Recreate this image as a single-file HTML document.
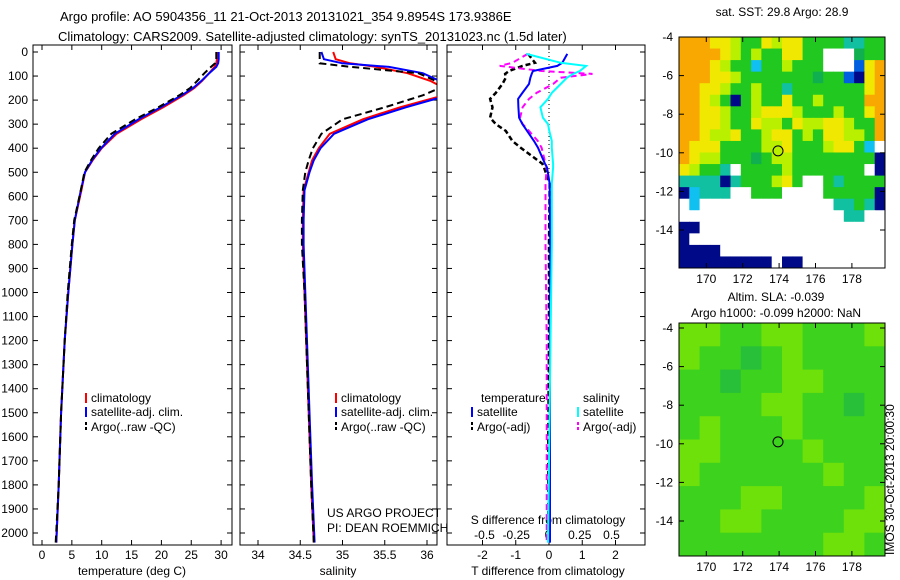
<!DOCTYPE html>
<html><head><meta charset="utf-8"><style>
body{margin:0;background:#fff}
svg{display:block;font-family:"Liberation Sans",sans-serif;font-size:12px}
</style></head><body>
<svg id="s" width="900" height="580">
<g>
<text x="60" y="21" font-size="13">Argo profile: AO 5904356_11 21-Oct-2013 20131021_354 9.8954S 173.9386E</text>
<text x="58" y="41" font-size="13">Climatology: CARS2009. Satellite-adjusted climatology: synTS_20131023.nc (1.5d later)</text>
<text x="782" y="16" text-anchor="middle">sat. SST: 29.8 Argo: 28.9</text>
<text x="776" y="301" text-anchor="middle">Altim. SLA: -0.039</text>
<text x="776" y="317" text-anchor="middle">Argo h1000: -0.099 h2000: NaN</text>
<text transform="translate(894,555) rotate(-90)">IMOS 30-Oct-2013 20:00:30</text>
<text x="132" y="575" text-anchor="middle">temperature (deg C)</text>
<text x="338" y="575" text-anchor="middle">salinity</text>
<text x="548" y="575" text-anchor="middle">T difference from climatology</text>
<text x="548" y="524" text-anchor="middle">S difference from climatology</text>
<text x="327" y="517">US ARGO PROJECT</text>
<text x="327" y="532">PI: DEAN ROEMMICH</text>
</g>
<g id="g"></g>
</svg>
<script>
// ---- data ----
const depthTicks=[0,100,200,300,400,500,600,700,800,900,1000,1100,1200,1300,1400,1500,1600,1700,1800,1900,2000];
const tTicks=[0,5,10,15,20,25,30];
const sTicks=[34,34.5,35,35.5,36];
const tdTicks=[-2,-1,0,1,2];
const sdTicks=[-0.5,-0.25,0,0.25,0.5];
const sdLabels=["-0.5","-0.25","0","0.25","0.5"];
const profDepth=[0,30,47,62,88,120,150,180,230,280,340,400,450,500,575,700,800,1000,1200,1500,1800,2040];
const tClim=[29.3,29.3,29.2,28.9,28.0,26.8,25.5,23.7,20.3,16.6,12.5,10.0,8.5,7.2,6.6,5.5,5.1,4.4,3.8,3.2,2.8,2.4];
const tSat=[29.6,29.6,29.5,29.2,28.0,26.7,25.3,23.4,19.9,16.2,12.2,9.9,8.4,7.2,6.5,5.5,5.1,4.4,3.8,3.2,2.8,2.4];
const tArgo=[29.2,29.2,29.0,28.3,27.2,26.0,24.8,23.0,19.5,15.6,11.6,9.5,8.2,7.1,6.5,5.4,5.0,4.3,3.8,3.2,2.8,2.3];
const sClim=[34.89,34.92,35.09,35.4,35.77,36.04,36.2,36.2,35.68,35.24,34.85,34.72,34.64,34.6,34.54,34.53,34.53,34.55,34.57,34.6,34.63,34.66];
const sSat=[34.75,34.78,35.0,35.55,35.95,36.15,36.3,36.25,35.75,35.3,34.9,34.74,34.66,34.61,34.55,34.54,34.54,34.56,34.58,34.61,34.64,34.67];
const sArgo=[34.73,34.73,34.73,35.1,35.9,36.1,36.15,35.95,35.5,35.0,34.75,34.65,34.6,34.56,34.53,34.52,34.52,34.55,34.57,34.6,34.63,34.66];
const diffDepth=[8,45,58,79,91,107,133,170,195,230,273,300,328,370,398,465,480,548,800,1200,1600,2040];
const tdSat=[0.55,0.4,0.25,-0.48,-0.52,-0.56,-0.6,-0.8,-0.93,-0.92,-0.9,-0.8,-0.66,-0.45,-0.33,-0.12,-0.06,0.02,0.04,0.03,0.03,0.03];
const tdArgo=[-0.63,-0.42,-0.8,-1.2,-1.32,-1.3,-1.4,-1.6,-1.77,-1.7,-1.77,-1.6,-1.3,-1.1,-0.85,-0.2,-0.15,0.02,0.0,0.0,-0.02,-0.02];
const sdSat=[-0.17,0.1,0.3,0.25,0.2,0.15,0.1,0.03,0.0,-0.06,-0.04,0.0,0.01,0.03,0.03,0.04,0.04,0.03,0.03,0.02,0.01,0.0];
const sdArgo=[-0.16,-0.28,-0.38,-0.05,0.35,0.1,0.04,-0.09,-0.15,-0.2,-0.22,-0.2,-0.15,-0.08,-0.05,-0.02,-0.01,-0.02,-0.02,-0.01,-0.01,-0.01];
const mapXTicks=[170,172,174,176,178];
const mapYTicks=[-4,-6,-8,-10,-12,-14];
const argoLon=173.94, argoLat=-9.9;
const sstGrid=[
"OOOYYLGGYLYYGGGGTTGG","OOOOYLGLGGYYGGWWWDGG","OOOYLGGCGGLGGGWWWBYO","OOOYYLGGGGGGGDGGBNYO",
"OOYYLGGLGGTGGGGGGGYO","OOYLGNGLGGYGGLGGGGOO","OOYYLGGLYYYLGGGLGGYO","OOYYLGGYLLGYLLYYLGGO",
"OOYLLYGGLYYGLGYYLLGO","OYYYGGGGLLYGGGLYYGCW","OYLLGGGDGLLGGGGGGGGN","YLGGTWGGGGLGGGGGGGWN",
"TTTTNTGGGLYGWWGTGGGG","NCTTTWWGGGWWWWGGGGGN","WCWWWWWWWWWWWWWTTGTN","WWWWWWWWWWWWWWWWTTWW",
"NNWWWWWWWWWWWWWWWWWW","NWWWWWWWWWWWWWWWWWWW","NNNNWWWWWWWWWWWWWWWW","NNNNNNNNNWNNWWWWWWWW"];
const slaGrid=[
"LLGGLLGGGL","LGGDGLGGGG","GGDGGLLGGG","GGGGLLGGDG","GLGGGLGGGG",
"LLGGGGLGGG","LGGGGGGLGG","GGGLLGGGGL","GGLLGGGGLL","GGGGGGGLLG"];
// ---- drawing ----
const NS="http://www.w3.org/2000/svg", G=document.getElementById('g');
function mk(t,a,p){const e=document.createElementNS(NS,t);for(const k in a)e.setAttribute(k,a[k]);(p||G).appendChild(e);return e;}
const yD=d=>52+d*0.2405;
const P1={x0:33,x1:232},P2={x0:240,x1:437},P3={x0:447,x1:645};
const xT=v=>42+v*5.97, xS=v=>258+(v-34)*84.5, xTD=v=>549+v*33.25, xSD=v=>548+v*127;
const yTop=45,yBot=545;
function frame(P,name){
  const r=mk('rect',{x:P.x0,y:yTop,width:P.x1-P.x0,height:yBot-yTop,fill:'none',stroke:'#000'});
  
  
  depthTicks.forEach(d=>{mk('line',{x1:P.x0,x2:P.x0+5,y1:yD(d),y2:yD(d),stroke:'#000'});mk('line',{x1:P.x1,x2:P.x1-5,y1:yD(d),y2:yD(d),stroke:'#000'});});
}
frame(P1,'temperature-panel');frame(P2,'salinity-panel');frame(P3,'difference-panel');
depthTicks.forEach(d=>{const t=mk('text',{x:28,y:yD(d)+4,'text-anchor':'end'});t.textContent=d;
  
  });
function xticks(ticks,fx,labels,ly){ticks.forEach((v,i)=>{const x=fx(v);
  mk('line',{x1:x,x2:x,y1:yBot,y2:yBot-5,stroke:'#000'});
  mk('line',{x1:x,x2:x,y1:yTop,y2:yTop+5,stroke:'#000'});
  const t=mk('text',{x:x,y:ly,'text-anchor':'middle'});t.textContent=labels?labels[i]:v;
  
  });}
xticks(tTicks,xT,null,559);xticks(sTicks,xS,null,559);xticks(tdTicks,xTD,null,559);
sdTicks.forEach((v,i)=>{const t=mk('text',{x:xSD(v),y:539,'text-anchor':'middle'});t.textContent=sdLabels[i];
  
  });
[P1,P2,P3].forEach((P,i)=>{const c=mk('clipPath',{id:'c'+i});mk('rect',{x:P.x0,y:yTop,width:P.x1-P.x0,height:yBot-yTop},c);});
function line(vals,depths,fx,col,dash,ci,name,w){
  const pts=vals.map((v,i)=>fx(v).toFixed(1)+','+yD(depths[i]).toFixed(1)).join(' ');
  const a={points:pts,fill:'none',stroke:col,'stroke-width':w||2,'clip-path':'url(#c'+ci+')'};
  if(dash)a['stroke-dasharray']=dash;
  const e=mk('polyline',a);
  
  
}
mk('line',{x1:xTD(0),x2:xTD(0),y1:yD(0),y2:yD(2040),stroke:'#000','stroke-dasharray':'1,3'});
line(tClim,profDepth,xT,'#f00',null,0,'temp-climatology-line');
line(tSat,profDepth,xT,'#00f',null,0,'temp-satellite-line');
line(tArgo,profDepth,xT,'#000','7,4',0,'temp-argo-line');
line(sClim,profDepth,xS,'#f00',null,1,'sal-climatology-line');
line(sSat,profDepth,xS,'#00f',null,1,'sal-satellite-line');
line(sArgo,profDepth,xS,'#000','7,4',1,'sal-argo-line');
line(tdArgo,diffDepth,xTD,'#000','5,3',2,'tdiff-argo-line',2.5);
line(sdArgo,diffDepth,xSD,'#f0f','6,4',2,'sdiff-argo-line');
line(tdSat,diffDepth,xTD,'#00f',null,2,'tdiff-satellite-line');
line(sdSat,diffDepth,xSD,'#0ff',null,2,'sdiff-satellite-line');
function leg(x,y,col,dash,label){const a={x1:x,x2:x,y1:y-9,y2:y+1,stroke:col,'stroke-width':2};if(dash)a['stroke-dasharray']=dash;mk('line',a);
  const t=mk('text',{x:x+5,y:y});t.textContent=label;
  
  }
[86,336].forEach(x=>{leg(x,402,'#f00',null,'climatology');leg(x,416,'#00f',null,'satellite-adj. clim.');leg(x,431,'#000','3,2','Argo(..raw -QC)');});
const t1=mk('text',{x:481,y:402});t1.textContent='temperature';


const t2=mk('text',{x:583,y:402});t2.textContent='salinity';


leg(472,416,'#00f',null,'satellite');leg(472,431,'#000','3,2','Argo(-adj)');
leg(578,416,'#0ff',null,'satellite');leg(578,431,'#f0f','3,2','Argo(-adj)');
const cols={O:'#f8a800',Y:'#f0e800',L:'#b8f000',G:'#20c820',D:'#10b050',T:'#10c0a0',C:'#10c0f0',B:'#0060e0',N:'#000a88',W:'#ffffff'};
function map(M,grid,pal,name){
  const lx=v=>M.x0+(v-168.5)*18.2, ly=v=>M.y4+(-4-v)*19.3;
  const rows=grid.length,cw=(M.x1-M.x0)/grid[0].length,ch=(M.y1-M.y0)/rows;
  grid.forEach((r,i)=>[...r].forEach((c,j)=>{const e=mk('rect',{x:M.x0+j*cw,y:M.y0+i*ch,width:cw+0.5,height:ch+0.5,fill:pal[c]});
    
    }));
  const f=mk('rect',{x:M.x0,y:M.y0,width:M.x1-M.x0,height:M.y1-M.y0,fill:'none',stroke:'#000'});
  
  
  mapXTicks.forEach(v=>{const x=lx(v);mk('line',{x1:x,x2:x,y1:M.y1,y2:M.y1-5,stroke:'#000'});mk('line',{x1:x,x2:x,y1:M.y0,y2:M.y0+5,stroke:'#000'});
    const t=mk('text',{x:x,y:M.y1+15,'text-anchor':'middle'});t.textContent=v;
    
    });
  mapYTicks.forEach(v=>{const y=ly(v);mk('line',{x1:M.x0,x2:M.x0+5,y1:y,y2:y,stroke:'#000'});mk('line',{x1:M.x1,x2:M.x1-5,y1:y,y2:y,stroke:'#000'});
    const t=mk('text',{x:M.x0-6,y:y+4,'text-anchor':'end'});t.textContent=v;
    
    });
  const c=mk('circle',{cx:lx(argoLon),cy:ly(argoLat),r:5,fill:'none',stroke:'#000'});
  
  
}
map({x0:679,x1:885,y0:37,y1:268,y4:37},sstGrid,cols,'sst-map');
map({x0:679,x1:885,y0:323,y1:556,y4:328},slaGrid,{G:'#3cd21e',L:'#6ee00a',D:'#28c038'},'sla-map');
</script>
</body></html>
